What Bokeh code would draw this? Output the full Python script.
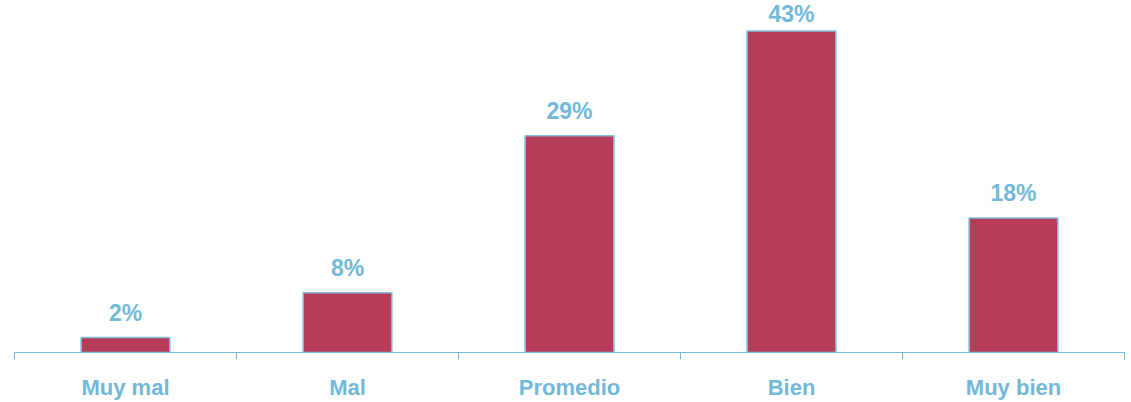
from bokeh.plotting import figure
from bokeh.models import ColumnDataSource, LinearAxis, FixedTicker
from bokeh.core.properties import value
from bokeh.embed import file_html
from bokeh.resources import INLINE

# Survey rating distribution (percent of responses)
categories = ["Muy mal", "Mal", "Promedio", "Bien", "Muy bien"]
values = [2, 8, 29, 43, 18]
value_labels = ["2%", "8%", "29%", "43%", "18%"]

BAR_COLOR = "#B73C5A"
BLUE = "#72B9D9"

n = len(categories)
centers = [i + 0.5 for i in range(n)]
y_max = 47.07
px_per_unit = 353 / y_max

# value labels sit 12px above each bar, kept inside the plot frame
label_y = [min(v + 12 / px_per_unit, (353 - 27) / px_per_unit) for v in values]

src = ColumnDataSource(dict(x=centers, top=values, ly=label_y, lab=value_labels))

p = figure(width=1131, height=402, x_range=(0, n), y_range=(0, y_max),
           x_axis_type=None, y_axis_type=None,
           min_border_left=14, min_border_right=7, min_border_top=0, min_border_bottom=49,
           output_backend="svg", toolbar_location=None)
p.outline_line_color = None
p.xgrid.visible = False
p.ygrid.visible = False
p.background_fill_color = "white"
p.border_fill_color = "white"

p.vbar(x="x", top="top", bottom=0, width=0.4, source=src,
       fill_color=BAR_COLOR, line_color="#80BFDC", line_width=1.5)

p.text(x="x", y="ly", text="lab", source=src,
       text_align="center", text_baseline="bottom",
       text_font=value("Liberation Sans"), text_font_style="bold",
       text_font_size="23px", text_color=BLUE)

axis = LinearAxis(ticker=FixedTicker(ticks=centers, minor_ticks=list(range(n + 1))))
axis.major_label_overrides = {c: lab for c, lab in zip(centers, categories)}
axis.axis_line_color = BLUE
axis.axis_line_width = 1
axis.major_tick_line_color = None
axis.major_tick_out = 0
axis.major_tick_in = 0
axis.minor_tick_line_color = BLUE
axis.minor_tick_out = 7
axis.minor_tick_in = 0
axis.major_label_standoff = 15
axis.major_label_text_font = "Liberation Sans"
axis.major_label_text_font_style = "bold"
axis.major_label_text_font_size = "22px"
axis.major_label_text_color = BLUE
p.add_layout(axis, "below")

open("out.html", "w").write(file_html(p, INLINE))
